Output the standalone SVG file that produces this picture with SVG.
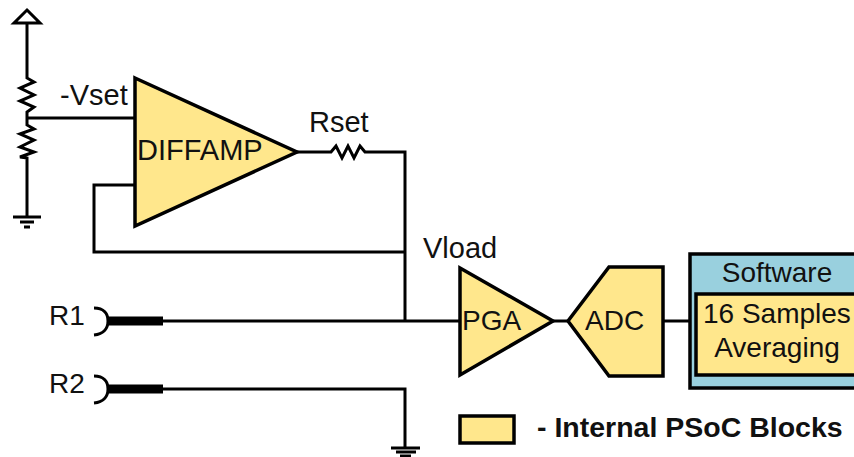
<svg xmlns="http://www.w3.org/2000/svg" width="854" height="457" viewBox="0 0 854 457">
<style>
.w{fill:none;stroke:#000;stroke-width:3;stroke-linejoin:miter}
.b{fill:#ffe78c;stroke:#000;stroke-width:3.5;stroke-linejoin:miter}
.t{font-family:"Liberation Sans",Arial,sans-serif;font-size:29px;fill:#111}
.s{font-size:28px}
.g{fill:none;stroke:#000;stroke-width:3}
</style>
<rect width="854" height="457" fill="#fff"/>
<g id="connectors">
<path class="w" d="M27 24V78L34 82 20 88 34 95 20 101 34 107 27 112V125L34 129 20 134 34 140 20 147 34 152 20 157 27 158V217"/>
<path class="w" d="M27 118H135"/>
<path class="w" d="M135 185H94V252H405"/>
<path class="w" d="M297 152H331L336 146 342 158 348 146 354 158 360 146 365 152H405V321"/>
<path class="w" d="M162 321H460"/>
<path class="w" d="M162 389H405V447"/>
<path class="w" d="M553 321H568"/>
<path class="w" d="M663 321H690"/>
<path d="M108 321H163" fill="none" stroke="#000" stroke-width="9"/>
<path d="M108 389H163" fill="none" stroke="#000" stroke-width="9"/>
</g>
<g id="vdd"><path d="M27 10L40 23H14Z" fill="#fff" stroke="#000" stroke-width="3"/></g>
<g id="gnd1"><path class="g" d="M13 217H41M20 222H34M24 227H30"/></g>
<g id="gnd2"><path class="g" d="M391 448H420M396 452H416M400 456H411"/></g>
<g id="diffamp">
<path class="b" d="M135 78L297 152 135 226Z"/>
<text class="t" x="137" y="160">DIFFAMP</text>
</g>
<g id="pga">
<path class="b" d="M460 268L553 321 460 375Z"/>
<text class="t s" x="462" y="330">PGA</text>
</g>
<g id="adc">
<path class="b" d="M609 267H663V376H609L568 321Z"/>
<text class="t s" x="585" y="330">ADC</text>
</g>
<g id="software">
<rect x="690" y="254" width="170" height="134" fill="#99d0de" stroke="#000" stroke-width="3.5"/>
<text class="t s" x="777" y="282" text-anchor="middle">Software</text>
<rect x="696" y="294" width="170" height="81" fill="#ffe78c" stroke="#000" stroke-width="3.5"/>
<text class="t s" x="703" y="323">16 Samples</text>
<text class="t s" x="777" y="357" text-anchor="middle">Averaging</text>
</g>
<g id="r1">
<path d="M94 308C104 308 108 314 108 321S104 334 94 335" fill="none" stroke="#000" stroke-width="3"/>
<text class="t s" x="49" y="325">R1</text>
</g>
<g id="r2">
<path d="M94 376C104 376 108 382 108 389S104 402 94 403" fill="none" stroke="#000" stroke-width="3"/>
<text class="t s" x="49" y="393">R2</text>
</g>
<g id="labels">
<text class="t" x="60" y="105">-Vset</text>
<text class="t" x="309" y="132">Rset</text>
<text class="t" x="423" y="258">Vload</text>
</g>
<g id="legend">
<rect x="460" y="416" width="54" height="27" fill="#ffe78c" stroke="#000" stroke-width="3.5"/>
<text x="537" y="437" font-family="Liberation Sans,Arial,sans-serif" font-size="28.5" font-weight="700" fill="#111">- Internal PSoC Blocks</text>
</g>
</svg>
